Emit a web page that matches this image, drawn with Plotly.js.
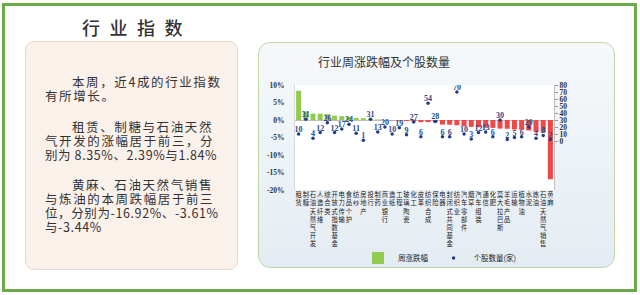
<!DOCTYPE html>
<html><head><meta charset="utf-8">
<script src="https://cdn.plot.ly/plotly-3.0.1.min.js"></script>
<style>
html,body{margin:0;padding:0;width:640px;height:295px;overflow:hidden;background:#fff;}
#frame{position:absolute;left:2px;top:3px;width:629px;height:283px;border:3px solid #6AAB48;}
#ltitle{position:absolute;left:82px;top:15px;font-family:"Noto Sans CJK SC";font-size:18px;line-height:24px;letter-spacing:9.5px;color:#333;font-weight:500;white-space:nowrap;}
#lbox{position:absolute;left:25px;top:41px;width:213px;height:229px;box-sizing:border-box;border:1px solid #E9D8CE;border-radius:9px;background:#FBF1EB;}
.ln{position:absolute;font-family:"Noto Sans CJK SC";font-size:12.5px;line-height:13px;letter-spacing:1.6px;color:#333;white-space:nowrap;}
#rbox{position:absolute;left:258px;top:42px;width:357px;height:226px;box-sizing:border-box;border:1.5px solid #BCD9A5;border-radius:12px;background:linear-gradient(#F6F9FB,#E4ECF3);}
#chart{position:absolute;left:0;top:0;width:640px;height:295px;z-index:2;}
</style></head>
<body>
<div id="frame"></div>
<div id="ltitle">行业指数</div>
<div id="lbox"></div>
<div class="ln" style="left:72px;top:75px;">本周，近4成的行业指数</div>
<div class="ln" style="left:45px;top:89px;">有所增长。</div>
<div class="ln" style="left:72px;top:120px;">租赁、制糖与石油天然</div>
<div class="ln" style="left:45px;top:134px;">气开发的涨幅居于前三，分</div>
<div class="ln" style="left:45px;top:148px;letter-spacing:0.6px;">别为 8.35%、2.39%与1.84%</div>
<div class="ln" style="left:72px;top:178px;">黄麻、石油天然气销售</div>
<div class="ln" style="left:45px;top:192px;">与炼油的本周跌幅居于前三</div>
<div class="ln" style="left:45px;top:206px;letter-spacing:0.6px;">位，分别为-16.92%、-3.61%</div>
<div class="ln" style="left:45px;top:220px;letter-spacing:0.6px;">与-3.44%</div>
<div id="rbox"></div>
<div id="chart"></div>
<script>
var categories = ['租赁','制糖','石油天然气开发','人造纤维','综合类','开放式指数基金','电力传输','食品个护','纺纱','房地产','投行','制药','商业银行','造纸','工程','玻璃陶瓷','化工','皮革','纺织合成','保险','电器','封闭式共同基金','纺织业','汽车零部件','烟草','汽车组装','通信','化肥','莫大拉巴斯','羊毛产品','运输','植物油','水泥','炼油','石油天然气销售','黄麻'];
var weeklyChange = [8.35,2.39,1.84,1.80,1.72,1.25,1.10,0.92,0.60,0.52,0.35,0.15,-0.05,-0.10,-0.18,-0.30,-0.42,-0.60,-0.62,-0.65,-1.30,-1.35,-1.50,-1.75,-1.95,-2.05,-2.20,-2.25,-2.45,-2.50,-2.70,-2.75,-3.00,-3.44,-3.61,-16.92];
var stockCount = [10,31,4,12,26,12,17,24,11,1,31,13,20,10,19,9,27,6,54,28,6,6,70,10,3,12,13,6,30,2,5,6,20,4,8,2];
var leftTicks = [-20,-15,-10,-5,0,5,10];
var rightTicks = [0,10,20,30,40,50,60,70,80];

var GREEN = '#92CC4E', RED = '#F04848', NAVY = '#1F3C88';
var tickText = categories.map(function(c){ return c.split('').join('<br>'); });

var traces = [
  {type:'bar', name:'周涨跌幅', x:categories, y:weeklyChange, width:0.7,
   marker:{color:weeklyChange.map(function(v){return v>=0?GREEN:RED;})}, hoverinfo:'skip'},
  {type:'scatter', mode:'markers', name:'个股数量(家)', x:categories, y:stockCount, yaxis:'y2',
   marker:{size:3.5, color:NAVY}, hoverinfo:'skip'},
  {type:'scatter', mode:'text', showlegend:false, x:categories, y:stockCount, yaxis:'y2',
   text:stockCount.map(String), textposition:'top center',
   textfont:{size:8, family:'Liberation Serif', color:'#2B4C8C', weight:'bold'}, hoverinfo:'skip'}
];

var axFont = {family:'Liberation Serif', size:7.5, color:'#333', weight:'bold'};
var layout = {
  width:640, height:295,
  margin:{l:295, r:86, t:85, b:105, autoexpand:false},
  paper_bgcolor:'rgba(0,0,0,0)', plot_bgcolor:'#FFFFFF',
  title:{text:'行业周涨跌幅及个股数量', font:{family:'Noto Sans CJK SC', size:12, color:'#333'},
         xref:'paper', x:0.344, xanchor:'center', yref:'container', y:1-63/295, yanchor:'middle'},
  showlegend:true,
  legend:{orientation:'h', x:0.56, xanchor:'center', y:-0.648, yanchor:'middle',
          font:{family:'Noto Sans CJK SC', size:7.5, color:'#222'}, bgcolor:'rgba(0,0,0,0)', itemwidth:30},
  xaxis:{type:'category', tickvals:categories, ticktext:tickText, tickangle:0,
         tickfont:{family:'Noto Sans CJK SC', size:6.3, color:'#222'},
         showgrid:false, showline:false, ticks:'', range:[-0.5,35.5], fixedrange:true},
  yaxis:{range:[-20,10], tickvals:leftTicks, ticktext:leftTicks.map(function(v){return v+'%';}), tickfont:axFont,
         showgrid:false, zeroline:true, zerolinecolor:'#BFBFBF', zerolinewidth:1,
         showline:true, linecolor:'#D9D9D9', ticks:'', ticklabelstandoff:8},
  yaxis2:{overlaying:'y', side:'right', range:[-70,80], tickvals:rightTicks, tickfont:axFont,
          showgrid:false, zeroline:false, showline:true, linecolor:'#BFBFBF',
          ticks:'outside', ticklen:3, tickcolor:'#999'}
};
Plotly.newPlot('chart', traces, layout, {staticPlot:true, displayModeBar:false});
</script>
</body></html>
